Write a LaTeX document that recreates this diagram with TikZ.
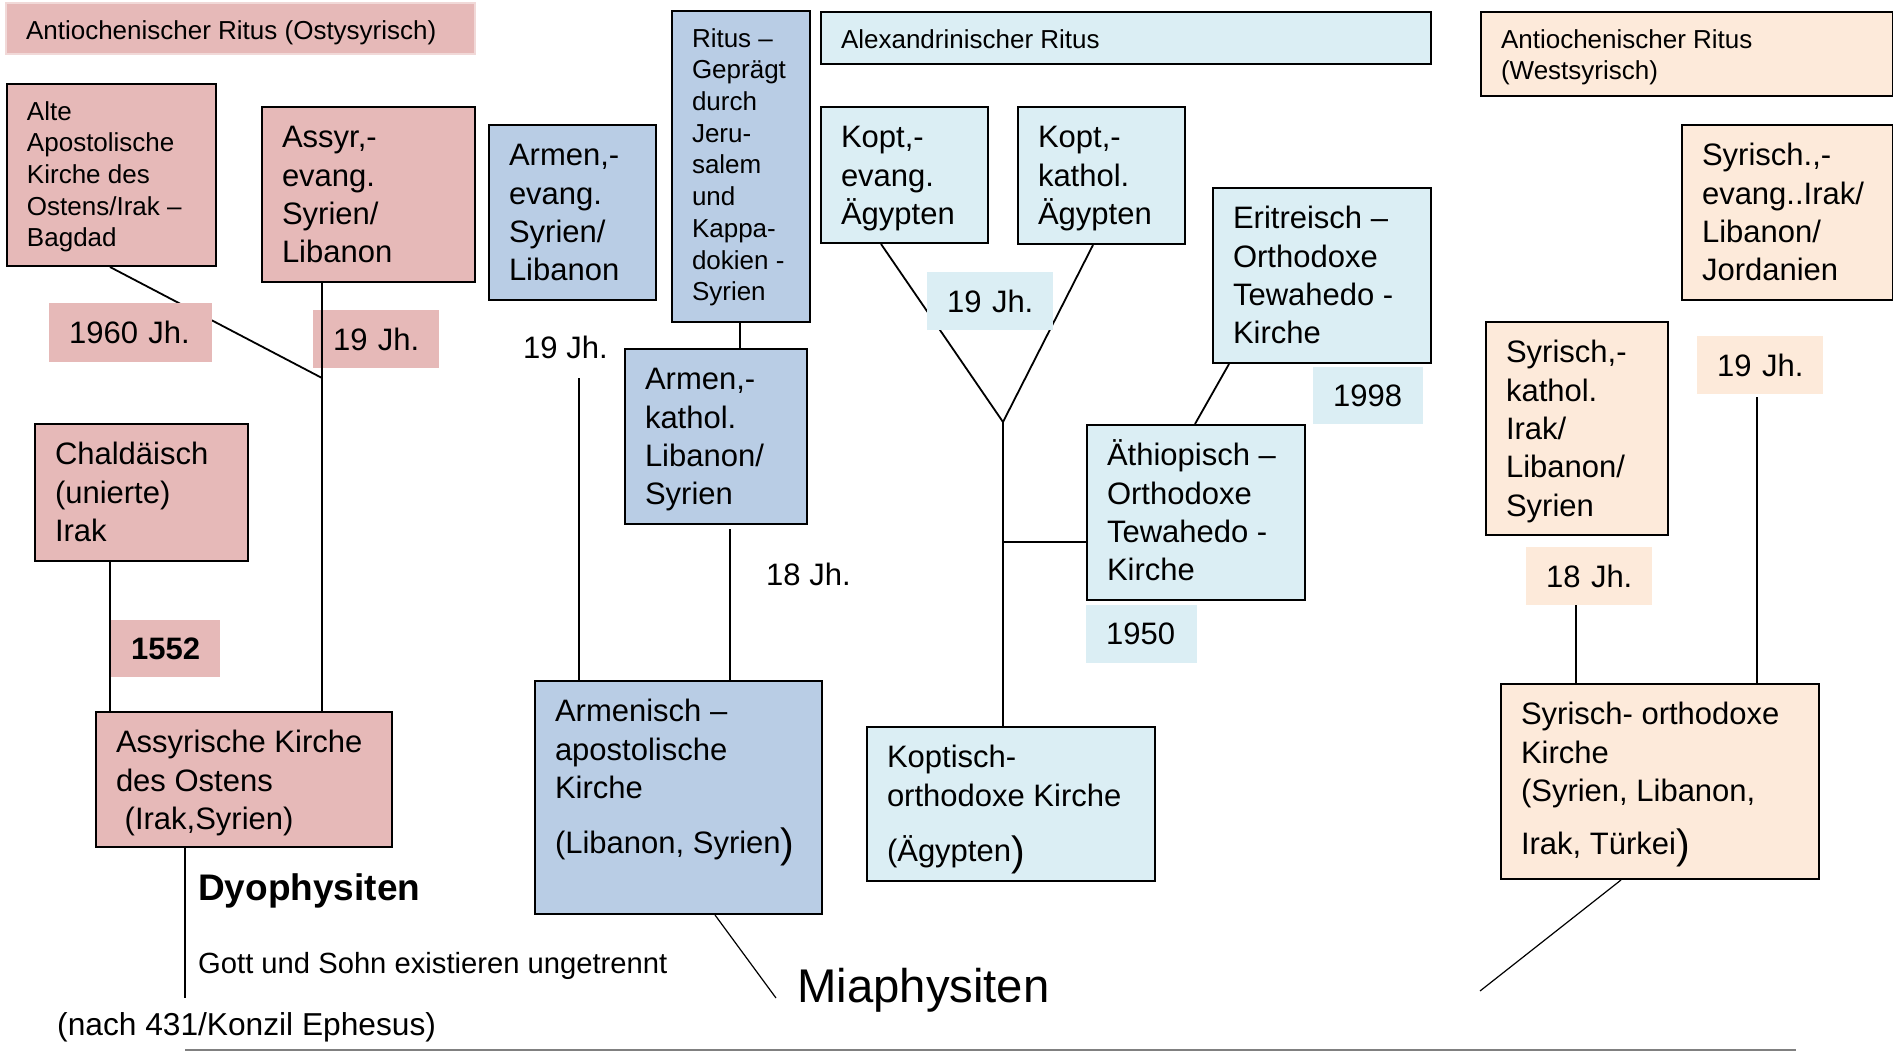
\documentclass[tikz,border=0pt]{standalone}
\usepackage{fontspec}
\setmainfont{Liberation Sans}
\usepackage{tikz}
\usetikzlibrary{positioning}
\definecolor{ostrosa}{HTML}{E6B9B8}
\definecolor{armblau}{HTML}{B9CDE5}
\definecolor{koptblau}{HTML}{DBEEF4}
\definecolor{westpfirsich}{HTML}{FDEADA}
\newcommand{\klein}{\fontsize{26}{31.7}\selectfont}
\newcommand{\gross}{\fontsize{31}{38.3}\selectfont}
% box text: width, height, lines (text starts at the top)
\newcommand{\feld}[3]{\parbox[t][\dimexpr#2pt-28pt\relax][t]{\dimexpr#1pt-40pt\relax}{\raggedright\strut#3}}
\newcommand{\klammer}{\raisebox{-4pt}{\fontsize{41}{41}\selectfont)}}

\begin{document}
\begin{tikzpicture}[
            x = 1pt, y = -1pt, % pixel grid of the original
            linie/.style = {draw = black, line width = 1.8pt},
            frei/.style = {anchor = base west, inner sep = 0pt}
        ]

        \tikzstyle{kasten}=[
            draw = black,
            line width = 2pt,
            rectangle,
            anchor = north west,
            inner xsep = 20pt,
            inner ysep = 14pt,
            font = \gross
        ]
        \tikzstyle{jahr}=[
            anchor = north west,
            inner xsep = 20pt,
            inner ysep = 0pt,
            align = left,
            font = \gross
        ]

        \useasboundingbox (0,0) rectangle (1893,1052);

	% ostsyrisch
        \node[kasten, font=\klein, draw=ostrosa!55, fill=ostrosa] (ostkopf) at (5,2) {\feld{469}{51}{Antiochenischer Ritus (Ostysyrisch)}};
        \node[kasten, font=\klein, fill=ostrosa] (alte) at (6,83) {\feld{209}{182}{Alte\\Apostolische\\Kirche des\\Ostens/Irak –\\Bagdad}};
        \node[kasten, fill=ostrosa] (assyrev) at (261,106) {\feld{213}{175}{Assyr,-\\evang.\\Syrien/\\Libanon}};
        \node[kasten, fill=ostrosa] (chald) at (34,423) {\feld{213}{137}{Chaldäisch\\(unierte)\\Irak}};
        \node[kasten, fill=ostrosa] (assyrk) at (95,711) {\feld{296}{135}{Assyrische~Kirche\\des Ostens\\\hspace*{0.28em}(Irak,Syrien)}};

        \node[jahr, fill=ostrosa, minimum width=126pt, minimum height=58pt, text width=86pt] (jh19ost) at (313,310) {19~Jh.};
        \node[jahr, fill=ostrosa, minimum width=109pt, minimum height=57pt, text width=69pt, font=\gross\bfseries] (jh1552) at (111,620) {1552};

        % armenisch
        \node[kasten, fill=armblau] (armev) at (488,124) {\feld{167}{175}{Armen,-\\evang.\\Syrien/\\Libanon}};
        \node[kasten, font=\klein, fill=armblau] (ritus) at (671,10) {\feld{138}{311}{Ritus –\\Geprägt\\durch\\Jeru-\\salem\\und\\Kappa-\\dokien -\\Syrien}};
        \node[kasten, fill=armblau] (armkat) at (624,348) {\feld{182}{175}{Armen,-\\kathol.\\Libanon/\\Syrien}};
        \node[kasten, fill=armblau] (armap) at (534,680) {\feld{287}{233}{Armenisch –\\apostolische\\Kirche\\[17pt](Libanon,~Syrien\klammer}};

        \node[frei, font=\gross] (jh19arm) at (523,358) {19 Jh.};
        \node[frei, font=\gross] (jh18arm) at (766,585) {18 Jh.};

        % koptisch
        \node[kasten, font=\klein, fill=koptblau] (alexkopf) at (820,11) {\feld{610}{52}{Alexandrinischer Ritus}};
        \node[kasten, fill=koptblau] (koptev) at (820,106) {\feld{167}{136}{Kopt,-\\evang.\\Ägypten}};
        \node[kasten, fill=koptblau] (koptkat) at (1017,106) {\feld{167}{137}{Kopt,-\\kathol.\\Ägypten}};
        \node[kasten, fill=koptblau] (eritrea) at (1212,187) {\feld{218}{175}{Eritreisch –\\Orthodoxe\\Tewahedo -\\Kirche}};
        \node[kasten, fill=koptblau] (aethiop) at (1086,424) {\feld{218}{175}{Äthiopisch –\\Orthodoxe\\Tewahedo -\\Kirche}};
        \node[kasten, fill=koptblau] (koptorth) at (866,726) {\feld{288}{154}{Koptisch-\\orthodoxe~Kirche\\[17pt](Ägypten\klammer}};

        \node[jahr, fill=koptblau, minimum width=110pt, minimum height=57pt, text width=70pt] (jh1998) at (1313,367) {1998};
        \node[below=4pt of aethiop.south west, jahr, fill=koptblau, minimum width=111pt, minimum height=58pt, text width=71pt] (jh1950) {1950};

        % westsyrisch
        \node[kasten, font=\klein, fill=westpfirsich] (westkopf) at (1480,11) {\feld{412}{84}{Antiochenischer Ritus\\(Westsyrisch)}};
        \node[kasten, fill=westpfirsich] (syrev) at (1681,124) {\feld{211}{175}{Syrisch.,-\\evang..Irak/\\Libanon/\\Jordanien}};
        \node[kasten, fill=westpfirsich] (syrkat) at (1485,321) {\feld{182}{213}{Syrisch,-\\kathol.\\Irak/\\Libanon/\\Syrien}};
        \node[kasten, fill=westpfirsich] (syrorth) at (1500,683) {\feld{318}{195}{Syrisch-~orthodoxe\\Kirche\\(Syrien,~Libanon,\\[15pt]Irak, Türkei\klammer}};

        \node[jahr, fill=westpfirsich, minimum width=126pt, minimum height=58pt, text width=86pt] (jh19west) at (1697,336) {19~Jh.};
        \node[jahr, fill=westpfirsich, minimum width=126pt, minimum height=58pt, text width=86pt] (jh18west) at (1526,547) {18~Jh.};

        % verbindungen
        \coordinate (knickost) at (322,378);
        \draw[linie] (110,0 |- alte.south) -- (knickost);
        \draw[linie] (322,0 |- assyrev.south) -- (322,0 |- assyrk.north);
        \draw[linie] (110,0 |- chald.south) -- (110,0 |- assyrk.north);
        \coordinate (dyoende) at (185,998);
        \draw[linie] (185,0 |- assyrk.south) -- (dyoende);

        \coordinate (armstart) at (579,378);
        \draw[linie] (armstart) -- (579,0 |- armap.north);
        \draw[linie] (740,0 |- ritus.south) -- (740,0 |- armkat.north);
        \coordinate (katstart) at (730,529);
        \draw[linie] (katstart) -- (730,0 |- armap.north);
        \coordinate (miaende) at (776,998);
        \draw[linie, line width=1.2pt] (715,0 |- armap.south) -- (miaende);

        \coordinate (gabel) at (1003,422);
        \draw[linie] (881,0 |- koptev.south) -- (gabel) -- (1093,0 |- koptkat.south);
        \draw[linie] (gabel) -- (1003,0 |- koptorth.north);
        \coordinate (abzweig) at (1003,542);
        \draw[linie] (abzweig) -- (aethiop.west |- abzweig);
        \draw[linie] (1229,0 |- eritrea.south) -- (1195,0 |- aethiop.north);

        \draw[linie] (1576,0 |- jh18west.south) -- (1576,0 |- syrorth.north);
        \coordinate (weststart) at (1757,397);
        \draw[linie] (weststart) -- (1757,0 |- syrorth.north);
        \coordinate (westende) at (1480,991);
        \draw[linie, line width=1.2pt] (1621,0 |- syrorth.south) -- (westende);

        \coordinate (fusslinks) at (185,1050);
        \coordinate (fussrechts) at (1796,1050);
        \draw[draw=gray, line width=2pt] (fusslinks) -- (fussrechts);

        % labels over the lines
        \node[jahr, fill=ostrosa, minimum width=163pt, minimum height=59pt, text width=123pt] (jh1960) at (49,303) {1960~Jh.};
        \node[jahr, fill=koptblau, minimum width=126pt, minimum height=58pt, text width=86pt] (jh19kopt) at (927,272) {19~Jh.};

        % unten
        \node[frei, font=\fontsize{37}{44}\selectfont\bfseries] (dyo) at (198,900) {Dyophysiten};
        \node[frei, font=\fontsize{29.2}{35}\selectfont] (gott) at (198,973) {Gott und Sohn existieren ungetrennt};
        \node[frei, font=\fontsize{31.7}{38}\selectfont] (nach) at (57,1035) {(nach 431/Konzil Ephesus)};
        \node[frei, font=\fontsize{47.3}{56}\selectfont] (mia) at (797,1002) {Miaphysiten};

\end{tikzpicture}
\end{document}
